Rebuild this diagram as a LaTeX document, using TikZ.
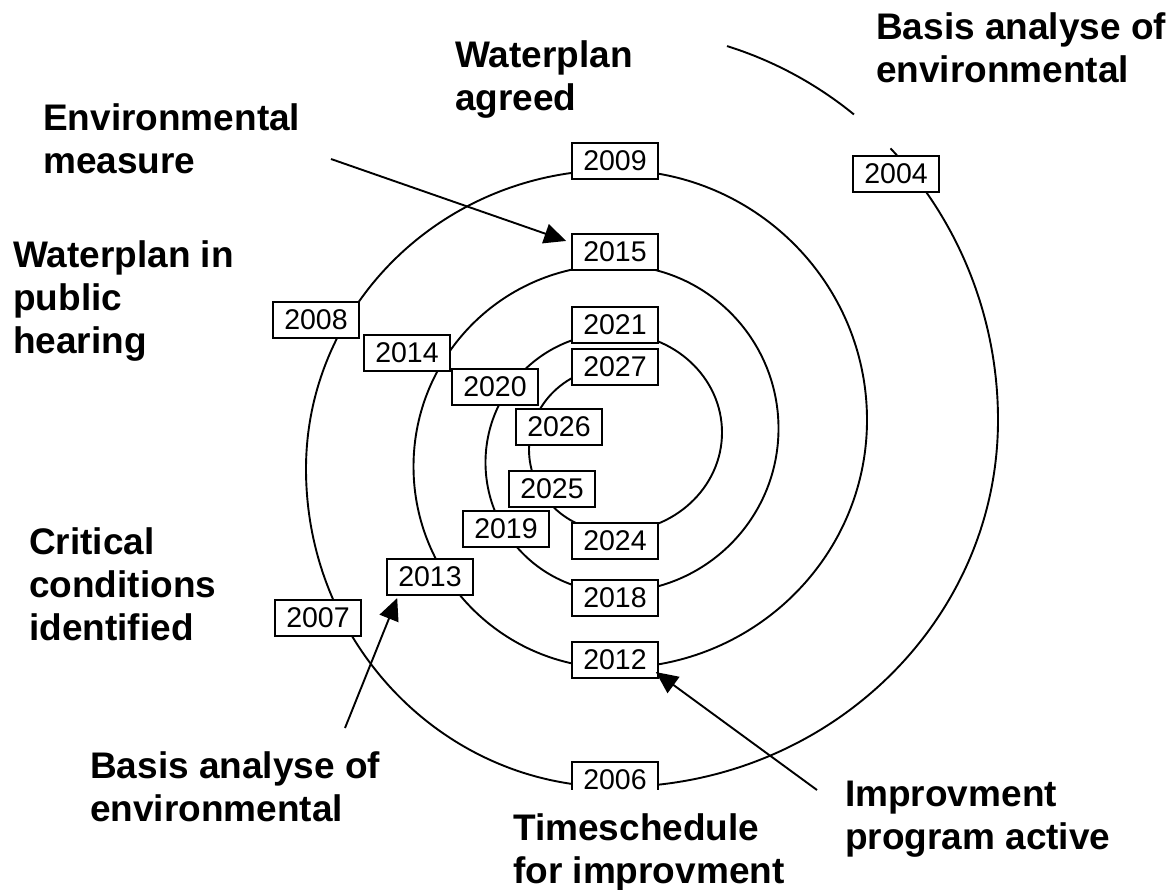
\documentclass[tikz,border=0pt]{standalone}
\usepackage{fontspec}
\setmainfont{Liberation Sans}
\usetikzlibrary{arrows.meta}
\tikzstyle{yearbox}=[draw, line width=1.6pt, fill=white, minimum width=86pt, minimum height=36.5pt, inner sep=0pt, font=\fontsize{28.5}{32}\selectfont]
\tikzstyle{remark}=[anchor=north west, align=left, inner sep=0pt, font=\bfseries\fontsize{37}{43}\selectfont]
\tikzset{spiral/.style={line width=1.9pt},
  pointer/.style={line width=1.9pt, -{Triangle[length=22pt,width=20pt]}}}

\begin{document}
\begin{tikzpicture}[x=1pt,y=-1pt]
  \useasboundingbox (0,0) rectangle (1172,889);

  %% Spiral, outside in
  \draw[spiral] ({615+383*cos(-73)},{420+391*sin(-73)})
    arc[start angle=-73, end angle=-51.4, x radius=383, y radius=391];
  \draw[spiral] ({615+383*cos(-44)},{420+391*sin(-44)})
    arc[start angle=-44, end angle=0, x radius=383, y radius=391]
    arc[start angle=0, end angle=90, x radius=383, y radius=367]
    arc[start angle=90, end angle=180, x radius=309, y radius=318]
    arc[start angle=180, end angle=270, x radius=309, y radius=299]
    arc[start angle=-90, end angle=0, x radius=252, y radius=250]
    arc[start angle=0, end angle=90, x radius=252, y radius=248]
    arc[start angle=90, end angle=270, radius=201.5]
    arc[start angle=-90, end angle=90, radius=163.5]
    arc[start angle=90, end angle=270, radius=129.5]
    arc[start angle=-90, end angle=90, x radius=107, y radius=99.5]
    arc[start angle=90, end angle=270, x radius=86, y radius=82.5];

  %% Years
  \draw (896,174) node[yearbox] (y2004) {2004};
  \draw (615,780) node[yearbox] (y2006) {2006};
  \draw (318,618) node[yearbox] (y2007) {2007};
  \draw (316,320) node[yearbox] (y2008) {2008};
  \draw (615,161) node[yearbox] (y2009) {2009};

  \draw (615,660) node[yearbox] (y2012) {2012};
  \draw (430,577) node[yearbox] (y2013) {2013};
  \draw (407,353) node[yearbox] (y2014) {2014};
  \draw (615,252) node[yearbox] (y2015) {2015};

  \draw (615,598) node[yearbox] (y2018) {2018};
  \draw (506,529) node[yearbox] (y2019) {2019};
  \draw (495,387) node[yearbox] (y2020) {2020};
  \draw (615,325) node[yearbox] (y2021) {2021};

  \draw (615,541) node[yearbox] (y2024) {2024};
  \draw (552,489) node[yearbox] (y2025) {2025};
  \draw (559,427) node[yearbox] (y2026) {2026};
  \draw (615,367) node[yearbox] (y2027) {2027};

  %% Texts
  \draw (43,103) node[remark] (measure) {Environmental\\measure};
  \draw (13,240) node[remark] (hearing) {Waterplan in\\public\\hearing};
  \draw (29,527) node[remark] (critical) {Critical\\conditions\\identified};
  \draw (90,751) node[remark] (basislow) {Basis analyse of\\environmental};
  \draw (505,790) node[remark, fill=white, inner xsep=8pt, inner ysep=23pt] (schedule) {Timeschedule\\for improvment};
  \draw (845,781) node[remark] (active) {Improvment\\program active};
  \draw (455,40) node[remark] (agreed) {Waterplan\\agreed};
  \draw (876,12) node[remark] (basistop) {Basis analyse of\\environmental};

  %% Arrows
  \coordinate (measure-tail) at (331,159);
  \coordinate (basis-tail) at (345,728);
  \coordinate (active-tail) at (817,790);
  \draw[pointer] (measure-tail) -- ([shift={(-5,8)}]y2015.north west);
  \draw[pointer] (basis-tail) -- ([shift={(11,2)}]y2013.south west);
  \draw[pointer] (active-tail) -- ([shift={(-3,-7)}]y2012.south east);
\end{tikzpicture}
\end{document}
